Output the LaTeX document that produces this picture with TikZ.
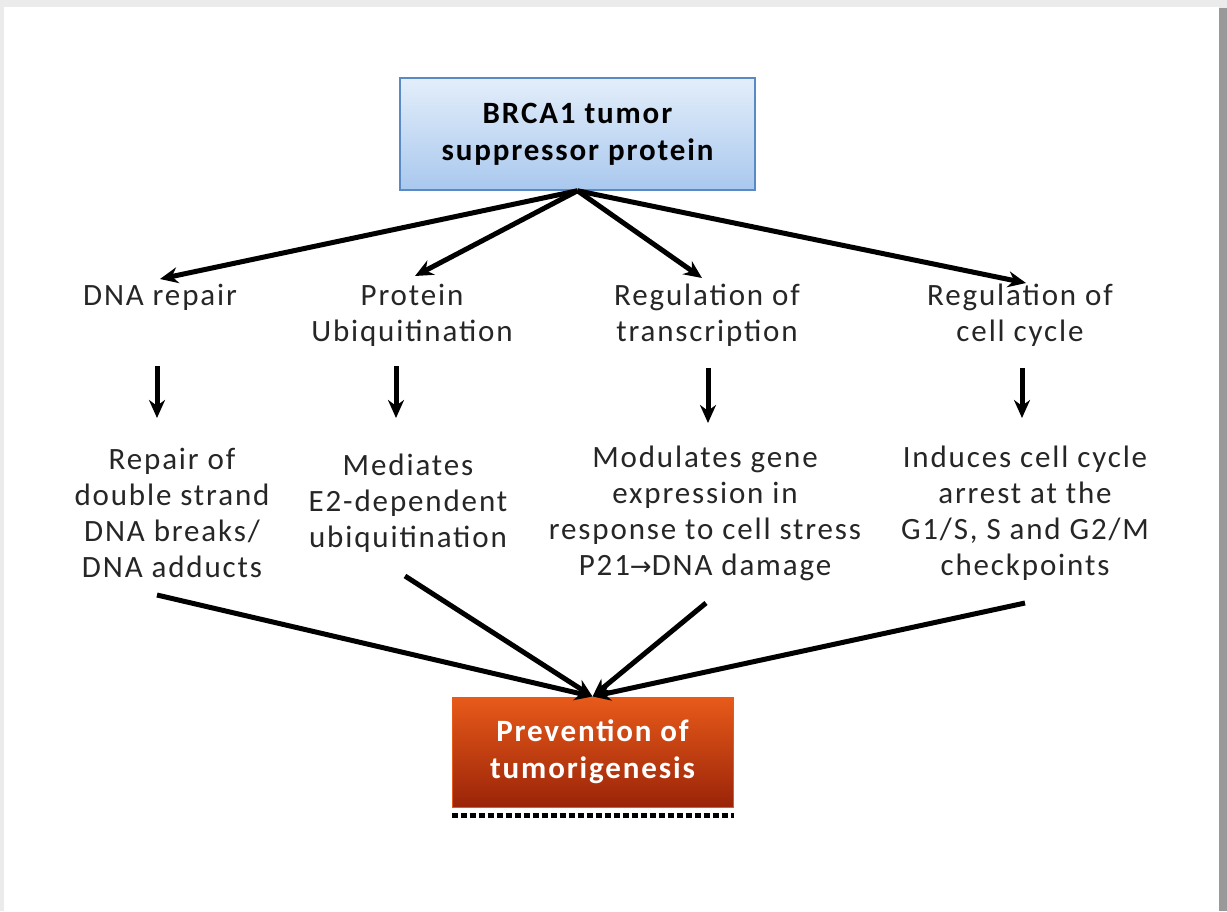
\documentclass[tikz,border=0pt]{standalone}
\usepackage{fontspec}
\setmainfont{Carlito}[LetterSpace=6]
\newfontfamily\symfont{DejaVu Sans}
\usetikzlibrary{arrows.meta}
\definecolor{tbTop}{HTML}{E3EEFA}
\definecolor{tbBot}{HTML}{A9C8EE}
\definecolor{tbLine}{HTML}{5A8AC6}
\definecolor{bbTop}{HTML}{E85A1A}
\definecolor{bbBot}{HTML}{9A2408}
\begin{document}
\begin{tikzpicture}[x=1pt,y=-1pt,
  lbl/.style={align=center,font=\fontsize{31}{36}\selectfont,text=black!85,inner sep=0pt},
  arr/.style={line width=5pt,-{Stealth[length=18pt,width=16pt]}},
  topbox/.style={draw=tbLine,line width=1.5pt,top color=tbTop,bottom color=tbBot,minimum width=355pt,minimum height=112pt,align=center,font=\bfseries\fontsize{31}{37}\selectfont,inner sep=0pt},
  botbox/.style={draw=bbTop,line width=1pt,top color=bbTop,bottom color=bbBot,minimum width=281pt,minimum height=110pt,align=center,text=white,font=\bfseries\fontsize{31}{37}\selectfont,inner sep=0pt}]
\useasboundingbox (0,0) rectangle (1227,911);
\fill[black!8] (0,0) rectangle (1227,911);
\fill[black!40] (1219,8) rectangle (1227,911);
\fill[white] (4,7) rectangle (1219,911);
\node[topbox] (brca) at (577.5,134) {BRCA1 tumor\\suppressor protein};
\node[botbox] (prev) at (592.5,752) {Prevention of\\tumorigenesis};
\draw[line width=4.5pt,dash pattern=on 6pt off 3pt] (prev.south west) ++(0,8) coordinate (d1) -- (prev.south east |- d1);
% level 1
\node[lbl] (l1) at (160,297) {DNA repair};
\node[lbl] (l2) at (412,315) {Protein\\Ubiquitination};
\node[lbl] (l3) at (707,315) {Regulation of\\transcription};
\node[lbl] (l4) at (1020,315) {Regulation of\\cell cycle};
% level 2
\node[lbl] (m1) at (172,513) {Repair of\\double strand\\DNA breaks/\\DNA adducts};
\node[lbl] (m2) at (408,503) {Mediates\\E2-dependent\\ubiquitination};
\node[lbl] (m3) at (705,513) {Modulates gene\\expression in\\response to cell stress\\P21{\symfont\fontsize{26}{36}\selectfont→}DNA damage};
\node[lbl] (m4) at (1025,513) {Induces cell cycle\\arrest at the\\G1/S, S and G2/M\\checkpoints};
% tips
\coordinate (t1) at (160,279);
\coordinate (t2) at (415,276);
\coordinate (t3) at (702,278);
\coordinate (t4) at (1026,283);
\draw[arr] (brca.south) -- (t1);
\draw[arr] (brca.south) -- (t2);
\draw[arr] (brca.south) -- (t3);
\draw[arr] (brca.south) -- (t4);
% vertical arrows
\coordinate (v1a) at (157,366); \coordinate (v1b) at (157,418);
\coordinate (v2a) at (396,366); \coordinate (v2b) at (396,418);
\coordinate (v3a) at (708,368); \coordinate (v3b) at (708,423);
\coordinate (v4a) at (1022,368); \coordinate (v4b) at (1022,418);
\draw[arr] (v1a) -- (v1b);
\draw[arr] (v2a) -- (v2b);
\draw[arr] (v3a) -- (v3b);
\draw[arr] (v4a) -- (v4b);
% bottom arrows
\coordinate (b1) at (157,595);
\coordinate (b2) at (405,576);
\coordinate (b3) at (706,603);
\coordinate (b4) at (1025,603);
\draw[arr] (b1) -- (prev.north);
\draw[arr] (b2) -- (prev.north);
\draw[arr] (b3) -- (prev.north);
\draw[arr] (b4) -- (prev.north);
\end{tikzpicture}
\end{document}
